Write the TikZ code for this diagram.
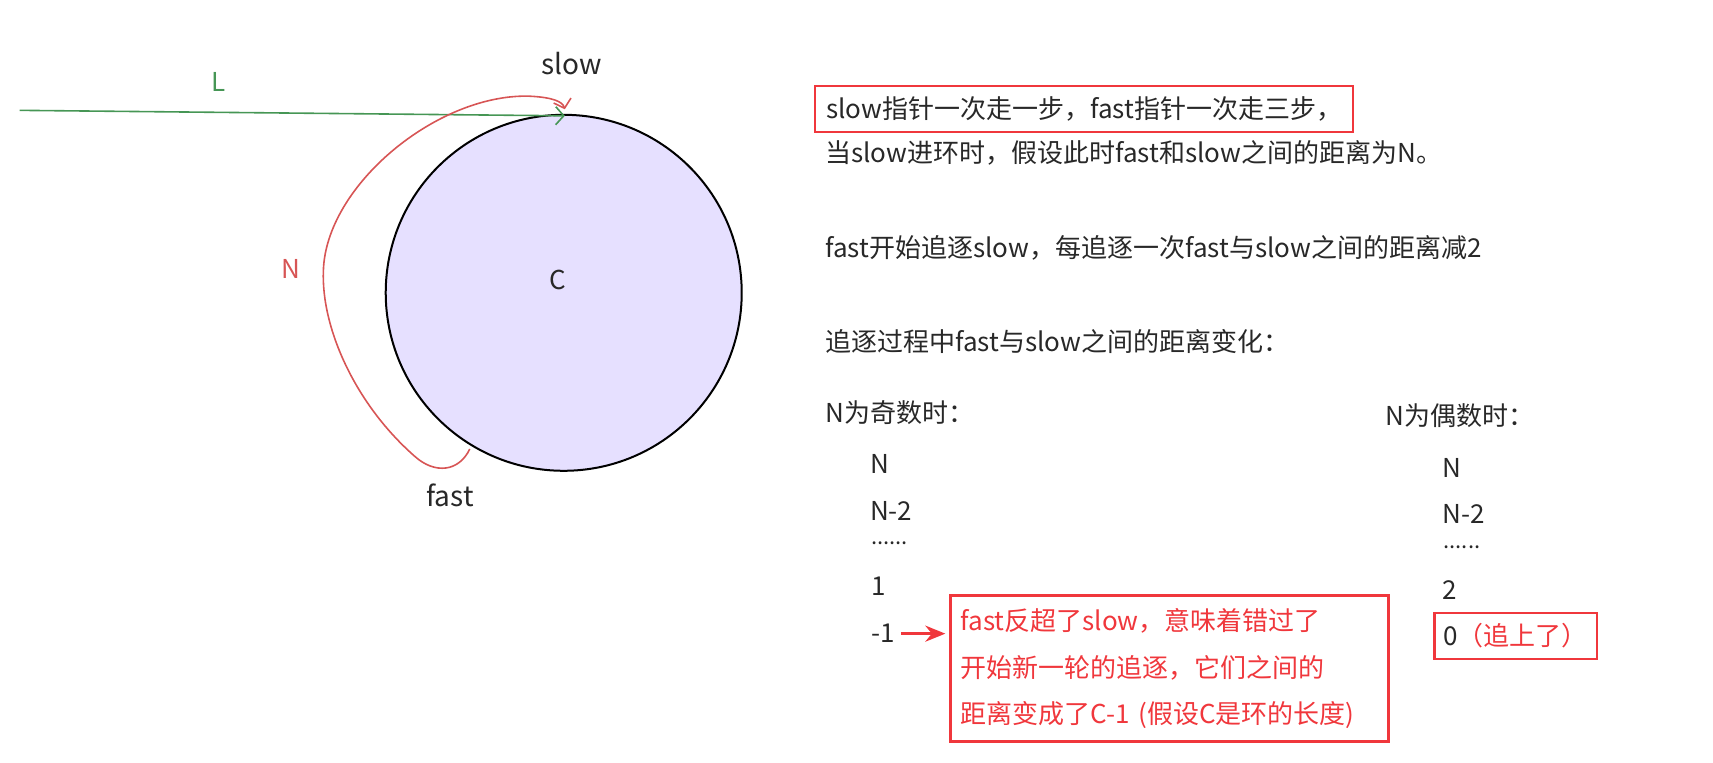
\documentclass[tikz,border=0pt]{standalone}
\usepackage{fontspec}
\setmainfont{Noto Sans CJK SC}
\usetikzlibrary{arrows.meta}

\definecolor{ringfill}{RGB}{230,224,255}
\definecolor{pathgreen}{RGB}{70,150,85}
\definecolor{gapred}{RGB}{215,85,85}
\definecolor{boxred}{RGB}{240,55,60}
\definecolor{ink}{RGB}{40,40,40}

\tikzset{
  txt/.style={anchor=west,inner sep=0pt,text=ink,font=\fontsize{13}{15}\selectfont},
  dots/.style={anchor=west,inner sep=0pt,text=ink,font=\fontsize{11}{12}\selectfont},
  redbox/.style={draw=boxred,line width=1.2pt,inner xsep=5.5pt,inner ysep=0pt,minimum height=23pt},
}

\begin{document}
\begin{tikzpicture}[x=0.54625pt,y=-0.54625pt]
\useasboundingbox (0,0) rectangle (1568,698.4);

% ring
\node[circle,draw=black,line width=1pt,fill=ringfill,minimum size=178pt,inner sep=0pt] (ring) at (516,268) {};
\node[text=ink,font=\fontsize{13}{15}\selectfont] (clen) at (511,256) {C};
\node[text=ink,font=\fontsize{14}{16}\selectfont] (slow) at (523,58) {slow};
\node[text=ink,font=\fontsize{14}{16}\selectfont] (fast) at (412,453) {fast};

% L
\coordinate (lstart) at (18,101);
\coordinate (entry) at (517,106);
\draw[pathgreen,line width=0.8pt,-{Straight Barb[length=4pt,width=9pt]}] (lstart) -- (entry);
\node[text=pathgreen,font=\fontsize{13}{15}\selectfont] (llab) at (200,75) {L};

% N
\coordinate (fastpt) at (430,411);
\coordinate (slowpt) at (517,100);
\draw[gapred,line width=0.8pt,-{Straight Barb[length=4pt,width=9pt]}] (fastpt)
  .. controls (420,432) and (398,434) .. (380,418)
  .. controls (325,370) and (294,300) .. (296,248)
  .. controls (298,170) and (400,86) .. (484,88)
  .. controls (506,89) and (515,93) .. (slowpt);
\node[text=gapred,font=\fontsize{13}{15}\selectfont] (nlab) at (266,246) {N};

% explanation
\node[txt,redbox] (rule) at (745,100) {slow指针一次走一步，fast指针一次走三步，};
\node[txt] (enter) at (755,140) {当slow进环时，假设此时fast和slow之间的距离为N。};
\node[txt] (chase) at (755,227) {fast开始追逐slow，每追逐一次fast与slow之间的距离减2};
\node[txt] (change) at (755,313) {追逐过程中fast与slow之间的距离变化：};

% N odd
\node[txt] (odd) at (755,378) {N为奇数时：};
\node[txt] (o1) at (796,425) {N};
\node[txt] (o2) at (796,468) {N-2};
\node[dots] (o3) at (797,497) {......};
\node[txt] (o4) at (797,537) {1};
\node[txt] (o5) at (797,580) {-1};

% N even
\node[txt] (even) at (1268,380) {N为偶数时：};
\node[txt] (e1) at (1320,428) {N};
\node[txt] (e2) at (1320,470) {N-2};
\node[dots] (e3) at (1321,501) {......};
\node[txt] (e4) at (1320,540) {2};
\node[txt,redbox,inner xsep=4.5pt] (e5) at (1312,582) {0\textcolor{boxred}{（追上了）}};

% overtake note
\node[draw=boxred,line width=1.2pt,anchor=north west,minimum width=219pt,minimum height=73pt,
  text width=209pt,inner xsep=4.9pt,align=left,text=boxred,
  font=\fontsize{13}{23.2}\selectfont] (overtake) at (869,544)
  {fast反超了slow，意味着错过了\\开始新一轮的追逐，它们之间的\\距离变成了C-1 (假设C是环的长度)};
\draw[boxred,line width=1.6pt,-{Stealth[length=10pt,width=8pt]}] ([xshift=3pt]o5.east) -- ([xshift=-2pt]overtake.west |- o5.east);
\end{tikzpicture}
\end{document}
